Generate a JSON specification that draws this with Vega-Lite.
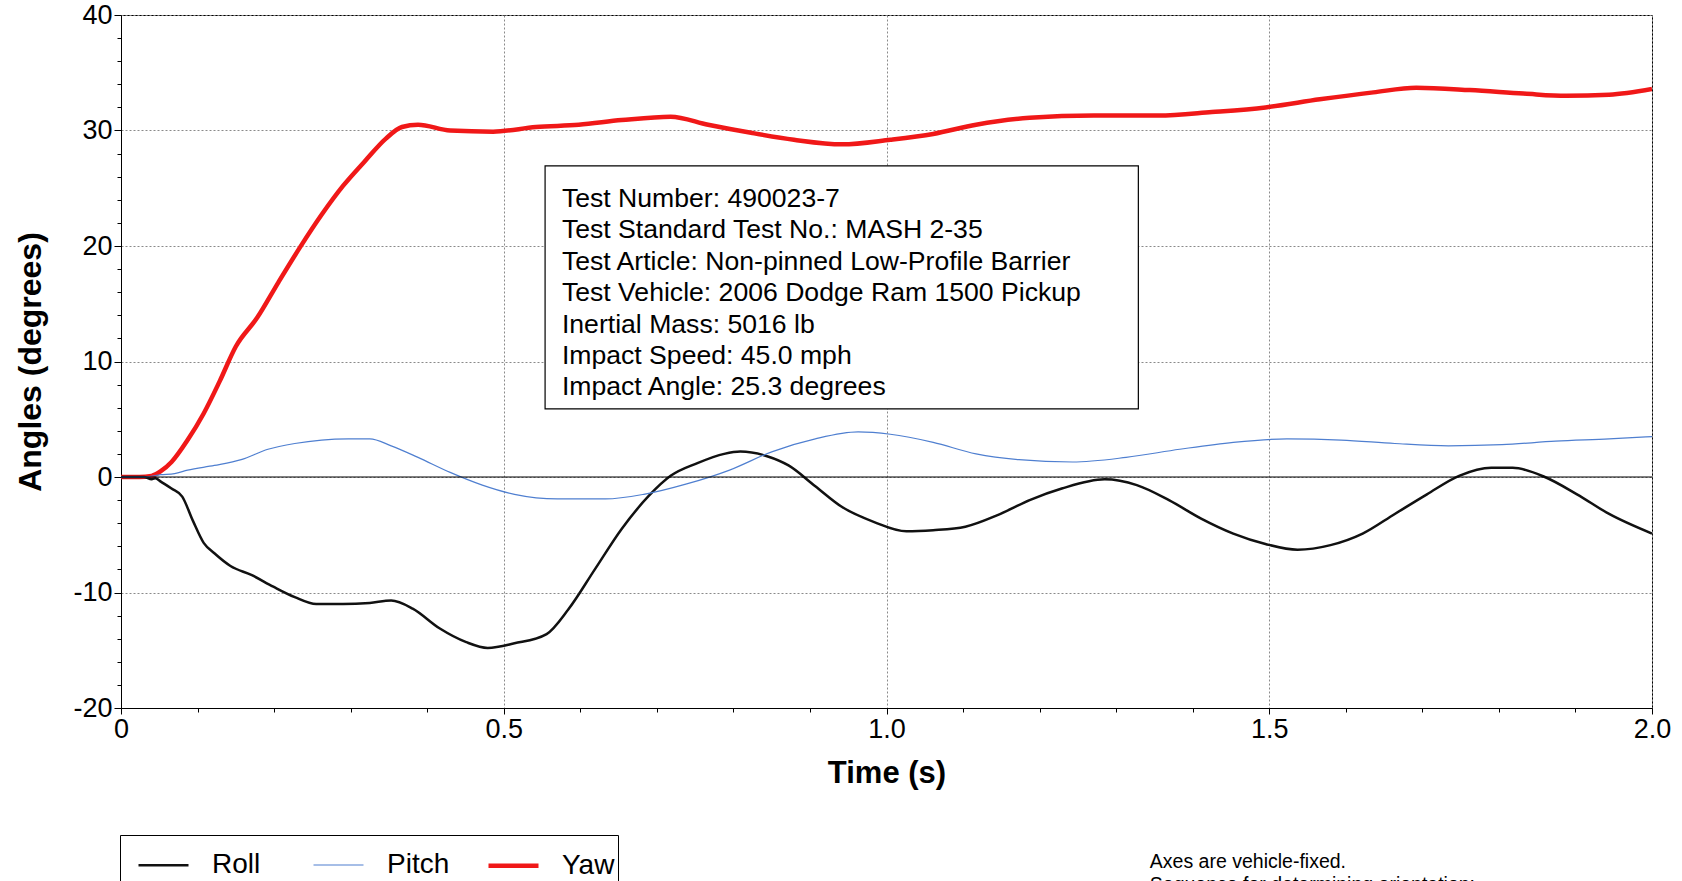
{
  "$schema": "https://vega.github.io/schema/vega-lite/v6.json",
  "width": 1531,
  "height": 693,
  "autosize": {"type": "none"},
  "padding": {"left": 121, "top": 15, "right": 30, "bottom": 173},
  "background": "white",
  "config": {
    "view": {"stroke": "black", "strokeWidth": 1},
    "font": "Liberation Sans",
    "axis": {"domainColor": "black", "tickColor": "black", "labelColor": "black", "titleColor": "black", "labelFont": "Liberation Sans", "titleFont": "Liberation Sans"}
  },
  "resolve": {"axis": {"x": "independent", "y": "independent"}},
  "layer": [
    {
      "data": {"values": [
        {"series": "Yaw", "t": 0, "v": 0}, {"series": "Yaw", "t": 0.024, "v": 0}, {"series": "Yaw", "t": 0.04, "v": 0.1}, {"series": "Yaw", "t": 0.052, "v": 0.5}, {"series": "Yaw", "t": 0.066, "v": 1.3}, {"series": "Yaw", "t": 0.087, "v": 3.2}, {"series": "Yaw", "t": 0.108, "v": 5.5}, {"series": "Yaw", "t": 0.129, "v": 8.3}, {"series": "Yaw", "t": 0.15, "v": 11.3}, {"series": "Yaw", "t": 0.178, "v": 13.8}, {"series": "Yaw", "t": 0.206, "v": 16.9}, {"series": "Yaw", "t": 0.234, "v": 19.9}, {"series": "Yaw", "t": 0.262, "v": 22.7}, {"series": "Yaw", "t": 0.29, "v": 25.2}, {"series": "Yaw", "t": 0.318, "v": 27.3}, {"series": "Yaw", "t": 0.346, "v": 29.3}, {"series": "Yaw", "t": 0.367, "v": 30.3}, {"series": "Yaw", "t": 0.388, "v": 30.5}, {"series": "Yaw", "t": 0.43, "v": 30.0}, {"series": "Yaw", "t": 0.486, "v": 29.9}, {"series": "Yaw", "t": 0.542, "v": 30.3}, {"series": "Yaw", "t": 0.598, "v": 30.5}, {"series": "Yaw", "t": 0.654, "v": 30.9}, {"series": "Yaw", "t": 0.718, "v": 31.2}, {"series": "Yaw", "t": 0.767, "v": 30.5}, {"series": "Yaw", "t": 0.823, "v": 29.8}, {"series": "Yaw", "t": 0.879, "v": 29.2}, {"series": "Yaw", "t": 0.942, "v": 28.8}, {"series": "Yaw", "t": 1.005, "v": 29.2}, {"series": "Yaw", "t": 1.061, "v": 29.7}, {"series": "Yaw", "t": 1.117, "v": 30.5}, {"series": "Yaw", "t": 1.187, "v": 31.1}, {"series": "Yaw", "t": 1.271, "v": 31.3}, {"series": "Yaw", "t": 1.355, "v": 31.3}, {"series": "Yaw", "t": 1.425, "v": 31.6}, {"series": "Yaw", "t": 1.495, "v": 32.0}, {"series": "Yaw", "t": 1.566, "v": 32.7}, {"series": "Yaw", "t": 1.636, "v": 33.3}, {"series": "Yaw", "t": 1.692, "v": 33.7}, {"series": "Yaw", "t": 1.762, "v": 33.5}, {"series": "Yaw", "t": 1.832, "v": 33.2}, {"series": "Yaw", "t": 1.888, "v": 33.0}, {"series": "Yaw", "t": 1.944, "v": 33.1}, {"series": "Yaw", "t": 2.0, "v": 33.6},
        {"series": "Roll", "t": 0, "v": 0}, {"series": "Roll", "t": 0.03, "v": 0}, {"series": "Roll", "t": 0.04, "v": -0.2}, {"series": "Roll", "t": 0.045, "v": -0.1}, {"series": "Roll", "t": 0.052, "v": -0.4}, {"series": "Roll", "t": 0.066, "v": -1.0}, {"series": "Roll", "t": 0.08, "v": -1.7}, {"series": "Roll", "t": 0.094, "v": -3.8}, {"series": "Roll", "t": 0.108, "v": -5.7}, {"series": "Roll", "t": 0.122, "v": -6.6}, {"series": "Roll", "t": 0.143, "v": -7.7}, {"series": "Roll", "t": 0.171, "v": -8.5}, {"series": "Roll", "t": 0.199, "v": -9.5}, {"series": "Roll", "t": 0.227, "v": -10.4}, {"series": "Roll", "t": 0.255, "v": -11.0}, {"series": "Roll", "t": 0.29, "v": -11.0}, {"series": "Roll", "t": 0.325, "v": -10.9}, {"series": "Roll", "t": 0.353, "v": -10.7}, {"series": "Roll", "t": 0.381, "v": -11.4}, {"series": "Roll", "t": 0.416, "v": -13.1}, {"series": "Roll", "t": 0.451, "v": -14.3}, {"series": "Roll", "t": 0.479, "v": -14.8}, {"series": "Roll", "t": 0.514, "v": -14.4}, {"series": "Roll", "t": 0.556, "v": -13.6}, {"series": "Roll", "t": 0.584, "v": -11.5}, {"series": "Roll", "t": 0.619, "v": -8.0}, {"series": "Roll", "t": 0.654, "v": -4.5}, {"series": "Roll", "t": 0.69, "v": -1.6}, {"series": "Roll", "t": 0.718, "v": 0.1}, {"series": "Roll", "t": 0.753, "v": 1.2}, {"series": "Roll", "t": 0.788, "v": 2.0}, {"series": "Roll", "t": 0.809, "v": 2.2}, {"series": "Roll", "t": 0.844, "v": 1.8}, {"series": "Roll", "t": 0.872, "v": 1.0}, {"series": "Roll", "t": 0.907, "v": -0.8}, {"series": "Roll", "t": 0.942, "v": -2.6}, {"series": "Roll", "t": 0.984, "v": -3.9}, {"series": "Roll", "t": 1.026, "v": -4.7}, {"series": "Roll", "t": 1.061, "v": -4.6}, {"series": "Roll", "t": 1.103, "v": -4.3}, {"series": "Roll", "t": 1.145, "v": -3.3}, {"series": "Roll", "t": 1.187, "v": -2.0}, {"series": "Roll", "t": 1.229, "v": -1.0}, {"series": "Roll", "t": 1.285, "v": -0.2}, {"series": "Roll", "t": 1.327, "v": -0.7}, {"series": "Roll", "t": 1.369, "v": -2.0}, {"series": "Roll", "t": 1.411, "v": -3.6}, {"series": "Roll", "t": 1.453, "v": -4.9}, {"series": "Roll", "t": 1.495, "v": -5.8}, {"series": "Roll", "t": 1.537, "v": -6.3}, {"series": "Roll", "t": 1.58, "v": -5.9}, {"series": "Roll", "t": 1.622, "v": -4.9}, {"series": "Roll", "t": 1.664, "v": -3.2}, {"series": "Roll", "t": 1.706, "v": -1.5}, {"series": "Roll", "t": 1.748, "v": 0.1}, {"series": "Roll", "t": 1.79, "v": 0.8}, {"series": "Roll", "t": 1.818, "v": 0.8}, {"series": "Roll", "t": 1.86, "v": 0.0}, {"series": "Roll", "t": 1.902, "v": -1.5}, {"series": "Roll", "t": 1.944, "v": -3.2}, {"series": "Roll", "t": 2.0, "v": -4.9},
        {"series": "Pitch", "t": 0, "v": 0}, {"series": "Pitch", "t": 0.03, "v": 0}, {"series": "Pitch", "t": 0.052, "v": 0.2}, {"series": "Pitch", "t": 0.07, "v": 0.3}, {"series": "Pitch", "t": 0.087, "v": 0.6}, {"series": "Pitch", "t": 0.122, "v": 1.0}, {"series": "Pitch", "t": 0.157, "v": 1.5}, {"series": "Pitch", "t": 0.192, "v": 2.4}, {"series": "Pitch", "t": 0.227, "v": 2.9}, {"series": "Pitch", "t": 0.262, "v": 3.2}, {"series": "Pitch", "t": 0.297, "v": 3.3}, {"series": "Pitch", "t": 0.325, "v": 3.3}, {"series": "Pitch", "t": 0.353, "v": 2.7}, {"series": "Pitch", "t": 0.388, "v": 1.7}, {"series": "Pitch", "t": 0.43, "v": 0.4}, {"series": "Pitch", "t": 0.472, "v": -0.7}, {"series": "Pitch", "t": 0.514, "v": -1.5}, {"series": "Pitch", "t": 0.57, "v": -1.9}, {"series": "Pitch", "t": 0.633, "v": -1.9}, {"series": "Pitch", "t": 0.683, "v": -1.5}, {"series": "Pitch", "t": 0.739, "v": -0.6}, {"series": "Pitch", "t": 0.795, "v": 0.6}, {"series": "Pitch", "t": 0.851, "v": 2.2}, {"series": "Pitch", "t": 0.907, "v": 3.3}, {"series": "Pitch", "t": 0.963, "v": 3.9}, {"series": "Pitch", "t": 1.005, "v": 3.7}, {"series": "Pitch", "t": 1.061, "v": 3.0}, {"series": "Pitch", "t": 1.117, "v": 2.0}, {"series": "Pitch", "t": 1.173, "v": 1.5}, {"series": "Pitch", "t": 1.243, "v": 1.3}, {"series": "Pitch", "t": 1.313, "v": 1.7}, {"series": "Pitch", "t": 1.383, "v": 2.4}, {"series": "Pitch", "t": 1.453, "v": 3.0}, {"series": "Pitch", "t": 1.523, "v": 3.3}, {"series": "Pitch", "t": 1.594, "v": 3.2}, {"series": "Pitch", "t": 1.664, "v": 2.9}, {"series": "Pitch", "t": 1.734, "v": 2.7}, {"series": "Pitch", "t": 1.804, "v": 2.8}, {"series": "Pitch", "t": 1.874, "v": 3.1}, {"series": "Pitch", "t": 1.944, "v": 3.3}, {"series": "Pitch", "t": 2.0, "v": 3.5}
      ]},
      "mark": {"type": "line", "interpolate": "monotone", "clip": true},
      "encoding": {
        "x": {"field": "t", "type": "quantitative", "scale": {"domain": [0, 2], "nice": false, "zero": false},
          "axis": {"orient": "bottom", "values": [0, 0.5, 1, 1.5, 2], "labelExpr": "datum.value == 0 ? '0' : format(datum.value, '.1f')", "labelFontSize": 27, "labelPadding": 2, "tickSize": 6, "labelFlush": false, "labelOverlap": false, "grid": true, "gridColor": "#8a8a8a", "gridDash": [2, 2], "title": "Time (s)", "titleFontSize": 31, "titleFontWeight": "bold", "titlePadding": 16}},
        "y": {"field": "v", "type": "quantitative", "scale": {"domain": [-20, 40], "nice": false, "zero": false},
          "axis": {"orient": "left", "values": [-20, -10, 0, 10, 20, 30, 40], "labelExpr": "datum.value + ''", "labelFontSize": 27, "labelPadding": 2, "tickSize": 7, "labelFlush": false, "labelOverlap": false, "grid": true, "gridColor": "#8a8a8a", "gridDash": [2, 2], "title": "Angles (degrees)", "titleFontSize": 32, "titleFontWeight": "bold", "titlePadding": 25}},
        "color": {"field": "series", "type": "nominal", "scale": {"domain": ["Roll", "Pitch", "Yaw"], "range": ["#111111", "#4f7fd0", "#f01818"]},
          "legend": {"title": null, "orient": "none", "legendX": -1, "legendY": 820, "direction": "horizontal", "columns": 3, "gridAlign": "all", "columnPadding": 23, "symbolType": "stroke", "symbolSize": 2500, "symbolOffset": 13, "labelFontSize": 28, "labelOffset": 21, "strokeColor": "black", "fillColor": "white", "padding": 3, "labelFont": "Liberation Sans", "labelColor": "black"}},
        "strokeWidth": {"field": "series", "type": "nominal", "scale": {"type": "ordinal", "domain": ["Roll", "Pitch", "Yaw"], "range": [2.5, 1.2, 4.5]}}
      }
    },
    {
      "data": {"values": [{}]},
      "mark": {"type": "rule", "color": "black", "strokeWidth": 1},
      "encoding": {
        "y": {"datum": 0, "type": "quantitative", "scale": {"domain": [-20, 40], "nice": false, "zero": false},
          "axis": {"orient": "left", "values": [-18, -16, -14, -12, -8, -6, -4, -2, 2, 4, 6, 8, 12, 14, 16, 18, 22, 24, 26, 28, 32, 34, 36, 38], "labels": false, "grid": false, "domain": false, "tickSize": 4, "title": null}}
      }
    },
    {
      "data": {"values": [{}]},
      "mark": {"type": "rect", "fill": "white", "stroke": "black", "strokeWidth": 1.2},
      "encoding": {
        "x": {"datum": 0.554, "type": "quantitative", "scale": {"domain": [0, 2], "nice": false, "zero": false},
          "axis": {"orient": "bottom", "values": [0.1, 0.2, 0.3, 0.4, 0.6, 0.7, 0.8, 0.9, 1.1, 1.2, 1.3, 1.4, 1.6, 1.7, 1.8, 1.9], "labels": false, "grid": false, "domain": false, "tickSize": 4, "title": null}},
        "x2": {"datum": 1.329},
        "y": {"datum": 26.93, "type": "quantitative", "scale": {"domain": [-20, 40], "nice": false, "zero": false}, "axis": null},
        "y2": {"datum": 5.89}
      }
    },
    {
      "data": {"values": [{}]},
      "mark": {"type": "text", "align": "left", "baseline": "alphabetic", "fontSize": 26.6, "lineHeight": 31.4, "font": "Liberation Sans", "color": "black"},
      "encoding": {
        "x": {"datum": 0.576, "type": "quantitative", "scale": {"domain": [0, 2], "nice": false, "zero": false}, "axis": null},
        "y": {"datum": 23.38, "type": "quantitative", "scale": {"domain": [-20, 40], "nice": false, "zero": false}, "axis": null},
        "text": {"value": ["Test Number: 490023-7", "Test Standard Test No.: MASH 2-35", "Test Article: Non-pinned Low-Profile Barrier", "Test Vehicle: 2006 Dodge Ram 1500 Pickup", "Inertial Mass: 5016 lb", "Impact Speed: 45.0 mph", "Impact Angle: 25.3 degrees"]}
      }
    },
    {
      "data": {"values": [{}]},
      "mark": {"type": "text", "align": "left", "baseline": "alphabetic", "fontSize": 19.5, "lineHeight": 23, "font": "Liberation Sans", "color": "black"},
      "encoding": {
        "x": {"datum": 1.344, "type": "quantitative", "scale": {"domain": [0, 2], "nice": false, "zero": false}, "axis": null},
        "y": {"datum": -33.85, "type": "quantitative", "scale": {"domain": [-20, 40], "nice": false, "zero": false}, "axis": null},
        "text": {"value": ["Axes are vehicle-fixed.", "Sequence for determining orientation:"]}
      }
    }
  ]
}
